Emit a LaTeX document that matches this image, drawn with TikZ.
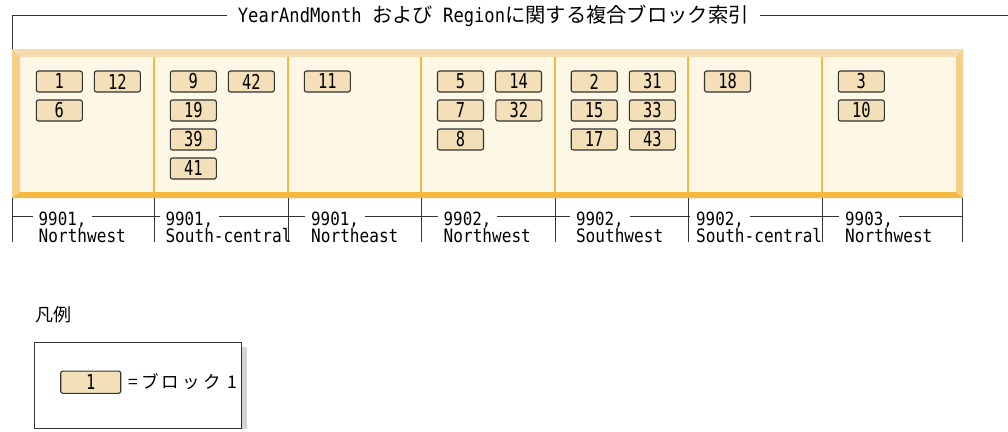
\documentclass[tikz,border=0pt]{standalone}
\usepackage{fontspec}
\setmainfont{DejaVu Sans Mono}
\newfontfamily\monot[FakeStretch=0.87]{DejaVu Sans Mono}
\newfontfamily\monod[FakeStretch=0.75]{DejaVu Sans Mono}
\newfontfamily\jpf{Noto Sans CJK JP}
\newfontfamily\jpfs[LetterSpace=18]{Noto Sans CJK JP}
\definecolor{bevtop}{HTML}{F3DDB0}
\definecolor{bevside}{HTML}{F5CF88}
\definecolor{bevbot}{HTML}{F5B93F}
\definecolor{inner}{HTML}{FDF7E5}
\definecolor{divc}{HTML}{F5B93F}
\definecolor{blkfill}{HTML}{F3DFB8}
\definecolor{bdr}{HTML}{333333}
\definecolor{shadowc}{HTML}{D4D4D4}
\tikzset{
  blk/.style={draw=bdr, fill=blkfill, rounded corners=2.2pt, minimum width=46pt, minimum height=21pt, inner sep=0pt, line width=1.1pt, font=\monod\fontsize{20.5}{20.5}\selectfont},
  conn/.style={draw=bdr, line width=1pt},
  divline/.style={draw=divc, line width=1.6pt},
  labtop/.style={anchor=base west, fill=white, inner xsep=6pt, inner ysep=0pt, text depth=0pt, font=\monot\fontsize{18.2}{18.2}\selectfont},
  labbot/.style={anchor=base west, inner xsep=0pt, inner ysep=0pt, font=\monot\fontsize{18.5}{18.5}\selectfont},
}
\begin{document}
\begin{tikzpicture}[x=1pt,y=-1pt]
\useasboundingbox (0,0) rectangle (1008,431);
% bevelled frame
\fill[inner] (20,57) rectangle (956,192);
\fill[bevtop] (12,49) -- (963,49) -- (956,57) -- (20,57) -- cycle;
\fill[bevside] (12,49) -- (20,57) -- (20,192) -- (12,198) -- cycle;
\fill[bevside] (963,49) -- (956,57) -- (956,192) -- (963,198) -- cycle;
\fill[bevbot] (12,198) -- (20,192) -- (956,192) -- (963,198) -- cycle;
% dividers
\foreach \x in {154,288,421,555,688,822} {\draw[divline] (\x,57) -- (\x,192);}
% title
\node[anchor=base west, inner xsep=11pt, inner ysep=0pt] (title) at (226.7,22)
  {\monot\fontsize{19.7}{20}\selectfont YearAndMonth\hspace{10.3pt}{\jpf\fontsize{20.3}{20}\selectfont および}\hspace{10.3pt}Region{\jpf\fontsize{20.3}{20}\selectfont に関する複合ブロック索引}};
\coordinate (ca) at (12,49);
\coordinate (cb) at (12,15);
\coordinate (cr) at (1008,15);
\draw[conn] (ca) -- (cb) -- (cb -| title.west);
\draw[conn] (title.east |- cb) -- (cr);
% blocks
\node[blk] (b1) at (59.3,81.5) {1};
\node[blk] (b12) at (117.3,81.5) {12};
\node[blk] (b6) at (59.3,110.5) {6};
\node[blk] (b9) at (193.3,81.5) {9};
\node[blk] (b42) at (251.3,81.5) {42};
\node[blk] (b19) at (193.3,110.5) {19};
\node[blk] (b39) at (193.3,139.5) {39};
\node[blk] (b41) at (193.3,168.5) {41};
\node[blk] (b11) at (327.3,81.5) {11};
\node[blk] (b5) at (460.5,81.5) {5};
\node[blk] (b14) at (518.5,81.5) {14};
\node[blk] (b7) at (460.5,110.5) {7};
\node[blk] (b32) at (518.8,110.5) {32};
\node[blk] (b8) at (460.5,139.5) {8};
\node[blk] (b2) at (594.2,81.5) {2};
\node[blk] (b31) at (652.3,81.5) {31};
\node[blk] (b15) at (594.2,110.5) {15};
\node[blk] (b33) at (652.3,110.5) {33};
\node[blk] (b17) at (594.2,139.5) {17};
\node[blk] (b43) at (652.3,139.5) {43};
\node[blk] (b18) at (727.5,81.5) {18};
\node[blk] (b3) at (861.3,81.5) {3};
\node[blk] (b10) at (861.3,110.5) {10};
% bottom key ticks and lines
\foreach \i/\x in {0/12,1/154,2/288,3/421,4/555,5/688,6/822,7/962} {
  \coordinate (tt\i) at (\x,198);
  \coordinate (tb\i) at (\x,241.5);
  \coordinate (th\i) at (\x,216);
  \draw[conn] (tt\i) -- (tb\i);
}
\foreach \i/\j in {0/1,1/2,2/3,3/4,4/5,5/6,6/7} {\draw[conn] (th\i) -- (th\j);}
\node[labtop] (la1) at (32.5,225.5) {9901,};
\node[labbot] (lb1) at (38.5,242.3) {Northwest};
\node[labtop] (la2) at (159.3,225.5) {9901,};
\node[labbot] (lb2) at (165.3,242.3) {South-central};
\node[labtop] (la3) at (305,225.5) {9901,};
\node[labbot] (lb3) at (311,242.3) {Northeast};
\node[labtop] (la4) at (437.5,225.5) {9902,};
\node[labbot] (lb4) at (443.5,242.3) {Northwest};
\node[labtop] (la5) at (569.8,225.5) {9902,};
\node[labbot] (lb5) at (575.8,242.3) {Southwest};
\node[labtop] (la6) at (690,225.5) {9902,};
\node[labbot] (lb6) at (696,242.3) {South-central};
\node[labtop] (la7) at (839,225.5) {9903,};
\node[labbot] (lb7) at (845,242.3) {Northwest};
% legend
\node[anchor=west, inner sep=0pt, font=\jpf\fontsize{18}{18}\selectfont] (legt) at (35,315) {凡例};
\fill[shadowc] (241,347) rectangle (247,429);
\draw[draw=bdr, fill=white, line width=1pt] (34,342) rectangle (241,428.7);
\node[blk, minimum width=60pt, minimum height=22.3pt] (lb) at (90.7,382.2) {1};
\node[anchor=west, inner sep=0pt, font=\jpfs\fontsize{17.5}{18}\selectfont] (legtxt) at (128,382) {=ブロック\kern7pt 1};
\end{tikzpicture}
\end{document}
